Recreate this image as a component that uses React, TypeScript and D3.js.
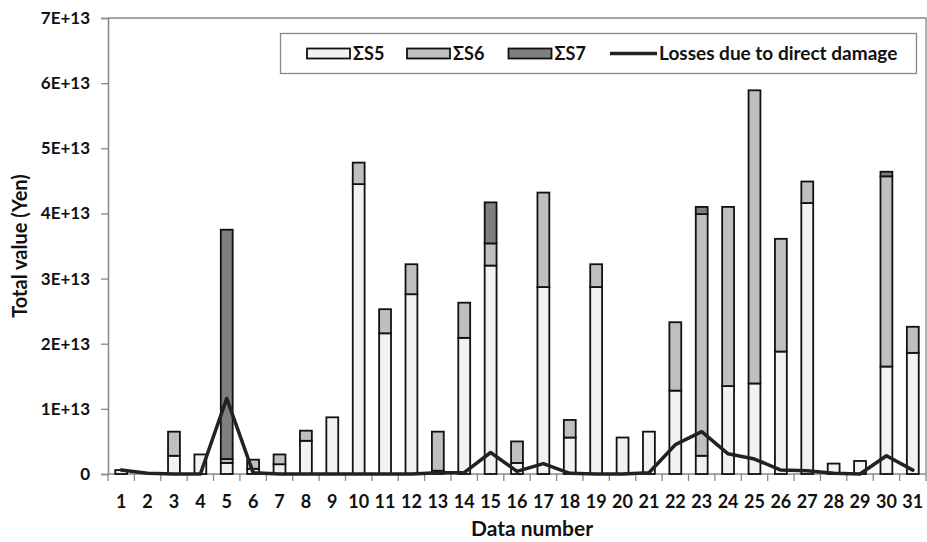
import * as d3 from "d3";
import React, { useRef, useEffect } from "react";

// data numbers (categories)
const dataNumbers = ["1", "2", "3", "4", "5", "6", "7", "8", "9", "10", "11", "12", "13", "14", "15", "16",
  "17", "18", "19", "20", "21", "22", "23", "24", "25", "26", "27", "28", "29", "30", "31"];

// stacked values, in units of 1E+13 yen
const s5 = [0.06, 0, 0.28, 0.30, 0.17, 0.08, 0.15, 0.51, 0.87, 4.45, 2.16, 2.76, 0.05, 2.09, 3.20, 0.17,
  2.87, 0.56, 2.87, 0.56, 0.65, 1.28, 0.28, 1.35, 1.39, 1.88, 4.16, 0.16, 0.20, 1.65, 1.86];
const s6 = [0, 0, 0.37, 0, 0.06, 0.14, 0.15, 0.155, 0, 0.33, 0.37, 0.46, 0.60, 0.54, 0.34, 0.33,
  1.45, 0.27, 0.35, 0, 0, 1.05, 3.71, 2.75, 4.50, 1.73, 0.33, 0, 0, 2.92, 0.40];
const s7 = [0, 0, 0, 0, 3.52, 0, 0, 0, 0, 0, 0, 0, 0, 0, 0.63, 0,
  0, 0, 0, 0, 0, 0, 0.11, 0, 0, 0, 0, 0, 0, 0.07, 0];
// losses due to direct damage, 1E+13 yen
const losses = [0.06, 0.01, 0, 0, 1.16, 0.02, 0, 0, 0, 0, 0, 0, 0.02, 0.02, 0.33, 0.04,
  0.16, 0.01, 0, 0, 0.02, 0.45, 0.65, 0.31, 0.23, 0.06, 0.05, 0.01, 0, 0.28, 0.06];

const yTicks = [0, 1e13, 2e13, 3e13, 4e13, 5e13, 6e13, 7e13];
const seriesKeys = ["ΣS5", "ΣS6", "ΣS7"];
const seriesColors = ["#f2f2f2", "#bfbfbf", "#7f7f7f"];
const lineLabel = "Losses due to direct damage";

const W = 927, H = 542;
const FONT = "Lato, 'Open Sans', sans-serif";

export default function App() {
  const ref = useRef<SVGSVGElement>(null);

  useEffect(() => {
    const svg = d3.select(ref.current);
    svg.selectAll("*").remove();

    const left = 108, right = 926, top = 18, bottom = 474;

    const x = d3.scaleBand<string>().domain(dataNumbers).range([left, right]).padding(0);
    const y = d3.scaleLinear().domain([0, 7e13]).range([bottom, top]);
    const barW = x.bandwidth() * 0.45;

    const rows = dataNumbers.map((d, i) => ({
      key: d,
      "ΣS5": s5[i] * 1e13,
      "ΣS6": s6[i] * 1e13,
      "ΣS7": s7[i] * 1e13,
    }));
    const stacked = d3.stack<any>().keys(seriesKeys)(rows);

    // plot frame (top and right)
    svg.append("path")
      .attr("d", `M${left},${top}H${right}V${bottom}`)
      .attr("fill", "none")
      .attr("stroke", "#888")
      .attr("stroke-width", 1.3);

    // y axis
    const yAxis = svg.append("g").attr("transform", `translate(${left},0)`)
      .call(d3.axisLeft(y).tickValues(yTicks).tickSize(7).tickPadding(11)
        .tickFormat((d: any) => (d === 0 ? "0" : `${d / 1e13}E+13`)));
    yAxis.select(".domain").attr("stroke", "#888").attr("stroke-width", 1.5);
    yAxis.selectAll(".tick line").attr("stroke", "#888").attr("stroke-width", 1.3);
    yAxis.selectAll(".tick text")
      .attr("font-family", FONT).attr("font-weight", 700).attr("font-size", 17).attr("fill", "#111");

    // x axis
    const xg = svg.append("g");
    xg.append("line").attr("x1", left).attr("x2", right).attr("y1", bottom).attr("y2", bottom)
      .attr("stroke", "#888").attr("stroke-width", 1.5);
    const bounds = dataNumbers.map((d) => x(d) as number).concat([right]);
    xg.selectAll("line.tk").data(bounds).enter().append("line")
      .attr("class", "tk")
      .attr("x1", (d) => d).attr("x2", (d) => d)
      .attr("y1", bottom).attr("y2", bottom + 7)
      .attr("stroke", "#888").attr("stroke-width", 1.3);
    xg.selectAll("text").data(dataNumbers).enter().append("text")
      .attr("x", (d) => (x(d) as number) + x.bandwidth() / 2)
      .attr("y", 508)
      .attr("text-anchor", "middle")
      .attr("font-family", FONT).attr("font-weight", 700).attr("font-size", 18).attr("fill", "#111")
      .text((d) => d);

    // stacked bars
    stacked.forEach((layer, li) => {
      svg.append("g").selectAll("rect")
        .data(layer.filter((seg: any) => seg[1] - seg[0] > 0))
        .enter().append("rect")
        .attr("x", (seg: any) => (x(seg.data.key) as number) + (x.bandwidth() - barW) / 2)
        .attr("y", (seg: any) => y(seg[1]))
        .attr("width", barW)
        .attr("height", (seg: any) => y(seg[0]) - y(seg[1]))
        .attr("fill", seriesColors[li])
        .attr("stroke", "#111")
        .attr("stroke-width", 1.8);
    });

    // losses line
    const line = d3.line<number>()
      .x((_, i) => (x(dataNumbers[i]) as number) + x.bandwidth() / 2)
      .y((d) => y(d * 1e13));
    svg.append("path")
      .attr("d", line(losses))
      .attr("fill", "none")
      .attr("stroke", "#222")
      .attr("stroke-width", 3.5)
      .attr("stroke-linejoin", "round")
      .attr("stroke-linecap", "round");

    // axis titles
    svg.append("text")
      .attr("transform", `translate(27,${(top + bottom) / 2}) rotate(-90)`)
      .attr("text-anchor", "middle")
      .attr("font-family", FONT).attr("font-weight", 700).attr("font-size", 20).attr("fill", "#111")
      .text("Total value (Yen)");
    svg.append("text")
      .attr("x", 532).attr("y", 536)
      .attr("text-anchor", "middle")
      .attr("font-family", FONT).attr("font-weight", 700).attr("font-size", 21).attr("fill", "#111")
      .text("Data number");

    // legend
    const lg = svg.append("g");
    lg.append("rect").attr("x", 280.5).attr("y", 33.5).attr("width", 636).attr("height", 40)
      .attr("fill", "#fff").attr("stroke", "#888").attr("stroke-width", 1.3);
    const swX = [307, 407, 508.5];
    seriesKeys.forEach((k, i) => {
      lg.append("rect").attr("x", swX[i]).attr("y", 48.5).attr("width", 43).attr("height", 10)
        .attr("fill", seriesColors[i]).attr("stroke", "#111").attr("stroke-width", 1.8);
      lg.append("text").attr("x", swX[i] + 46).attr("y", 59.5)
        .attr("font-family", FONT).attr("font-weight", 700).attr("font-size", 18).attr("fill", "#111")
        .text(k);
    });
    lg.append("line").attr("x1", 610).attr("x2", 657).attr("y1", 53.5).attr("y2", 53.5)
      .attr("stroke", "#222").attr("stroke-width", 3.5);
    lg.append("text").attr("x", 659).attr("y", 59.5)
      .attr("font-family", FONT).attr("font-weight", 700).attr("font-size", 19).attr("fill", "#111")
      .text(lineLabel);
  }, []);

  return (
    <svg ref={ref} width={W} height={H}
      style={{ position: "absolute", left: 0, top: 0, background: "#fff" }} />
  );
}
